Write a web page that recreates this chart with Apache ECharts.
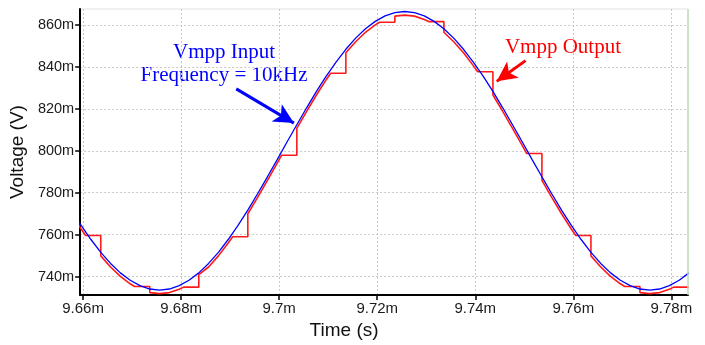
<!DOCTYPE html>
<html>
<head>
<meta charset="utf-8">
<script src="https://cdn.jsdelivr.net/npm/echarts@6/dist/echarts.min.js"></script>
<style>
html,body{margin:0;padding:0;background:#fff;}
#c{width:705px;height:345px;}
</style>
</head>
<body>
<div id="c"></div>
<script>
// ---- data (time in ms, voltage in mV) ----
const xTicks = [9.66, 9.68, 9.70, 9.72, 9.74, 9.76, 9.78];
const yTicks = [740, 760, 780, 800, 820, 840, 860];
const xRange = [9.6594, 9.7834];
const yRange = [731.2, 867.6];

const inputTime = [9.6576,9.6596,9.6616,9.6636,9.6656,9.6676,9.6696,9.6716,9.6736,9.6756,9.6776,9.6796,9.6816,9.6836,9.6856,9.6876,9.6896,9.6916,9.6936,9.6956,9.6976,9.6996,9.7016,9.7036,9.7056,9.7076,9.7096,9.7116,9.7136,9.7156,9.7176,9.7196,9.7216,9.7236,9.7256,9.7276,9.7296,9.7316,9.7336,9.7356,9.7376,9.7396,9.7416,9.7436,9.7456,9.7476,9.7496,9.7516,9.7536,9.7556,9.7576,9.7596,9.7616,9.7636,9.7656,9.7676,9.7696,9.7716,9.7736,9.7756,9.7776,9.7796,9.7816,9.7836];
const inputVolt = [771.7,764.4,757.7,751.6,746.3,741.8,738.3,735.7,734.1,733.6,734.1,735.7,738.3,741.8,746.3,751.6,757.7,764.4,771.7,779.5,787.6,795.8,804.2,812.4,820.5,828.3,835.6,842.3,848.4,853.7,858.2,861.7,864.3,865.9,866.4,865.9,864.3,861.7,858.2,853.7,848.4,842.3,835.6,828.3,820.5,812.4,804.2,795.8,787.6,779.5,771.7,764.4,757.7,751.6,746.3,741.8,738.3,735.7,734.1,733.6,734.1,735.7,738.3,741.8];

const outputTime = [9.6576,9.6596,9.6605,9.6636,9.6636,9.6656,9.6676,9.6696,9.6705,9.6736,9.6736,9.6756,9.6776,9.6796,9.6805,9.6836,9.6836,9.6856,9.6876,9.6896,9.6905,9.6936,9.6936,9.6956,9.6976,9.6996,9.7005,9.7036,9.7036,9.7056,9.7076,9.7096,9.7105,9.7136,9.7136,9.7156,9.7176,9.7196,9.7205,9.7236,9.7236,9.7256,9.7276,9.7296,9.7305,9.7336,9.7336,9.7356,9.7376,9.7396,9.7405,9.7436,9.7436,9.7456,9.7476,9.7496,9.7505,9.7536,9.7536,9.7556,9.7576,9.7596,9.7605,9.7636,9.7636,9.7656,9.7676,9.7696,9.7705,9.7736,9.7736,9.7756,9.7776,9.7796,9.7805,9.7836];
const outputVolt = [770.0,762.7,759.6,759.6,749.9,744.6,740.1,736.6,735.3,735.3,732.4,731.9,732.4,734.0,735.0,735.0,741.0,744.6,749.9,756.0,759.0,759.0,770.0,777.8,785.9,794.1,797.9,797.9,810.7,818.8,826.6,833.9,837.0,837.0,846.7,852.0,856.5,860.0,861.3,861.3,864.2,864.7,864.2,862.6,861.6,861.6,856.5,852.0,846.7,840.6,837.7,837.7,826.6,818.8,810.7,802.5,798.7,798.7,785.9,777.8,770.0,762.7,759.6,759.6,749.9,744.6,740.1,736.6,735.3,735.3,732.4,731.9,732.4,734.0,735.0,735.0];

// annotation arrows (data coordinates: start, tip)
const inputArrow = [[9.69124, 829.5], [9.7030, 813.2]];
const outputArrow = [[9.75026, 843.0], [9.74438, 833.1]];
const inputLabel = ['Vmpp Input', 'Frequency = 10kHz'];
const outputLabel = 'Vmpp Output';

const zip = (a, b) => a.map((v, i) => [v, b[i]]);
const fmtX = v => parseFloat(Number(v).toFixed(4)) + 'm';
const fmtY = v => parseFloat(Number(v).toFixed(2)) + 'm';

const chart = echarts.init(document.getElementById('c'), null, {renderer: 'canvas'});
const axisFont = '"Liberation Sans", Arial, sans-serif';
const serif = '"Liberation Serif", "Times New Roman", serif';

chart.setOption({
  animation: false,
  backgroundColor: '#ffffff',
  grid: {left: 77, right: 17, top: 9, bottom: 47, show: true, borderColor: '#e2e2e2', borderWidth: 1},
  xAxis: {
    type: 'value',
    min: xRange[0], max: xRange[1],
    minInterval: 0.02, maxInterval: 0.02,
    name: 'Time (s)', nameLocation: 'middle', nameGap: 24,
    nameTextStyle: {fontFamily: axisFont, fontSize: 19, color: '#111', padding: [0, 80, 0, 0]},
    axisLine: {show: true, onZero: false, lineStyle: {color: '#000', width: 2}},
    axisTick: {show: true, length: 5, lineStyle: {color: '#000', width: 1.5}, customValues: xTicks},
    axisLabel: {fontFamily: axisFont, fontSize: 15, color: '#1a1a1a', margin: 6, formatter: fmtX, customValues: xTicks},
    splitLine: {show: true, lineStyle: {color: '#c8c8c8', width: 1, type: [2, 2]}}
  },
  yAxis: {
    type: 'value',
    min: yRange[0], max: yRange[1],
    minInterval: 20, maxInterval: 20,
    name: 'Voltage (V)', nameLocation: 'middle', nameGap: 43,
    nameTextStyle: {fontFamily: axisFont, fontSize: 19, color: '#111'},
    axisLine: {show: true, onZero: false, lineStyle: {color: '#000', width: 2}},
    axisTick: {show: true, length: 5, lineStyle: {color: '#000', width: 1.5}, customValues: yTicks},
    axisLabel: {fontFamily: axisFont, fontSize: 14.5, color: '#1a1a1a', margin: 6, formatter: fmtY, customValues: yTicks},
    splitLine: {show: true, lineStyle: {color: '#c8c8c8', width: 1, type: [2, 2]}}
  },
  series: [
    {
      name: 'Vmpp Output', type: 'line', data: zip(outputTime, outputVolt),
      showSymbol: false, symbol: 'none', clip: true, z: 2,
      lineStyle: {color: '#ff1a1a', width: 1.6},
      markLine: {
        silent: true, symbol: ['none', 'arrow'], symbolSize: [15, 20], label: {show: false},
        lineStyle: {color: '#ff0000', width: 3, type: 'solid'},
        data: [[{coord: outputArrow[0]}, {coord: outputArrow[1]}]]
      }
    },
    {
      name: 'Vmpp Input', type: 'line', data: zip(inputTime, inputVolt),
      showSymbol: false, symbol: 'none', clip: true, z: 3,
      lineStyle: {color: '#0000ff', width: 1.3},
      markLine: {
        silent: true, symbol: ['none', 'arrow'], symbolSize: [15, 20], label: {show: false},
        lineStyle: {color: '#0000ff', width: 3, type: 'solid'},
        data: [
          [{coord: inputArrow[0]}, {coord: inputArrow[1]}],
          [{coord: [xRange[1], yRange[0]], symbol: 'none', lineStyle: {color: '#bfe0b8', width: 1.5}},
           {coord: [xRange[1], yRange[1]], symbol: 'none'}]
        ]
      }
    }
  ],
  graphic: [
    {type: 'text', x: 224, y: 52, style: {text: inputLabel[0], font: '21px ' + serif, fill: '#0000ff', align: 'center', verticalAlign: 'middle'}},
    {type: 'text', x: 224, y: 75, style: {text: inputLabel[1], font: '21px ' + serif, fill: '#0000ff', align: 'center', verticalAlign: 'middle'}},
    {type: 'text', x: 563, y: 47, style: {text: outputLabel, font: '21px ' + serif, fill: '#ff0000', align: 'center', verticalAlign: 'middle'}}
  ]
});
</script>
</body>
</html>
